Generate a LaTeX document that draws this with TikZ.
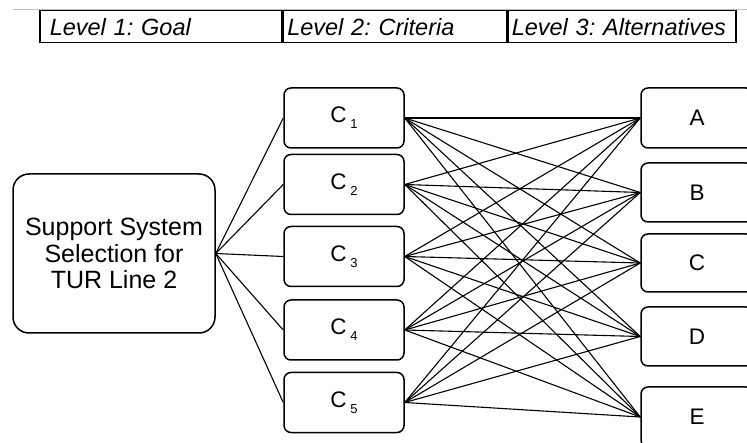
\documentclass[tikz,border=0pt]{standalone}
\usepackage{fontspec}
\setmainfont{Liberation Sans}
\frenchspacing

\def\boxfont{\fontsize{22.5}{26}\selectfont}
\newcommand{\crit}[1]{C\,\raisebox{-6pt}{\fontsize{13}{13}\selectfont #1}}

\tikzset{
  hdr/.style={draw, line width=1.5pt, anchor=north west, minimum height=32pt,
    inner xsep=10pt, inner ysep=0pt, align=left,
    font=\itshape\fontsize{23.5}{26}\selectfont},
  box/.style={draw, line width=1.5pt, rounded corners=7pt, font=\boxfont,
    minimum width=120pt, minimum height=60pt},
  link/.style={line width=1.1pt},
}

\begin{document}
\begin{tikzpicture}[x=1pt,y=-1pt]
  \useasboundingbox (0,0) rectangle (747,443);

  % header row
  \draw[gray!50, line width=0.6pt] (13,9) -- (747,9);
  \node[hdr, text width=222pt] (h1) at (39,10) {Level 1: Goal};
  \node[hdr, inner xsep=4pt, text width=215pt] (h2) at (h1.north east) {Level 2: Criteria};
  \node[hdr, inner xsep=4pt, text width=220pt] (h3) at (h2.north east) {Level 3: Alternatives};

  % goal
  \node[box, rounded corners=16pt, minimum width=202pt, minimum height=159pt,
    font=\fontsize{25}{26.5}\selectfont, align=center] (goal) at (114,253.5)
    {Support System\\Selection for\\TUR Line 2};

  % criteria
  \foreach \i/\y in {1/118, 2/184.5, 3/256.5, 4/330, 5/402.5} {
    \node[box] (c\i) at (344,\y) {\crit{\i}};
    \draw[link] (goal.east) -- (c\i.west);
  }

  % alternatives
  \foreach \a/\y/\h in {A/118/60, B/192.5/59, C/263/58, D/336.5/59, E/417/60} {
    \node[box, minimum width=112pt, minimum height=\h pt] (alt\a) at (697,\y) {\a};
  }

  \foreach \i in {1,...,5}
    \foreach \a in {A,B,C,D,E}
      \draw[link] (c\i.east) -- (alt\a.west);
\end{tikzpicture}
\end{document}
